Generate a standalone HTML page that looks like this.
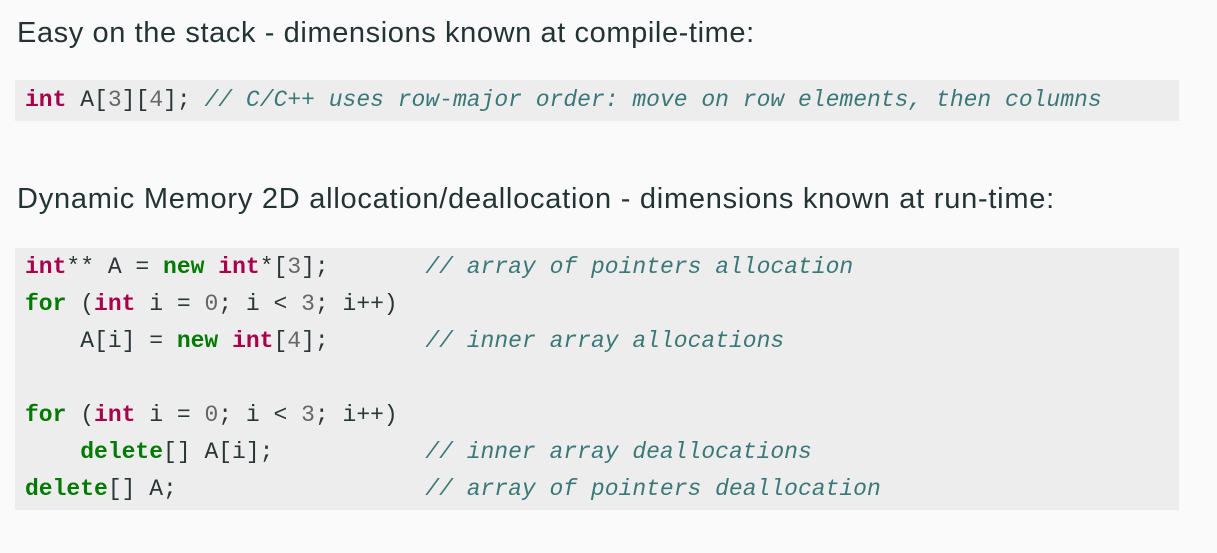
<!DOCTYPE html>
<html><head><meta charset="utf-8"><style>
html,body{margin:0;padding:0;background:#fafafa;width:1217px;height:553px;overflow:hidden;position:relative}
.h{position:absolute;left:17px;font-family:"Liberation Sans",sans-serif;font-size:29px;letter-spacing:0.6px;color:#233333;white-space:nowrap;line-height:32px}
.box{position:absolute;left:15px;width:1164px;background:#ededed}
pre{margin:0;font-family:"Liberation Mono",monospace;font-size:23px;line-height:37px;color:#2a3535;padding-left:10px;white-space:pre}
.k{color:#a8004a;font-weight:bold}
.g{color:#007a00;font-weight:bold}
.n{color:#666}
.c{color:#3a7878;font-style:italic}
</style></head><body>
<div class="h" style="top:17px">Easy on the stack - dimensions known at compile-time:</div>
<div class="box" style="top:80px;height:41px;padding-top:2px;box-sizing:border-box"><pre><span class="k">int</span> A[<span class="n">3</span>][<span class="n">4</span>]; <span class="c">// C/C++ uses row-major order: move on row elements, then columns</span></pre></div>
<div class="h" style="top:183px;letter-spacing:0.75px">Dynamic Memory 2D allocation/deallocation - dimensions known at run-time:</div>
<div class="box" style="top:248px;height:262px;padding-top:1px;box-sizing:border-box"><pre><span class="k">int</span>** A = <span class="g">new</span> <span class="k">int</span>*[<span class="n">3</span>];       <span class="c">// array of pointers allocation</span>
<span class="g">for</span> (<span class="k">int</span> i = <span class="n">0</span>; i &lt; <span class="n">3</span>; i++)
    A[i] = <span class="g">new</span> <span class="k">int</span>[<span class="n">4</span>];       <span class="c">// inner array allocations</span>

<span class="g">for</span> (<span class="k">int</span> i = <span class="n">0</span>; i &lt; <span class="n">3</span>; i++)
    <span class="g">delete</span>[] A[i];           <span class="c">// inner array deallocations</span>
<span class="g">delete</span>[] A;                  <span class="c">// array of pointers deallocation</span></pre></div>
</body></html>
